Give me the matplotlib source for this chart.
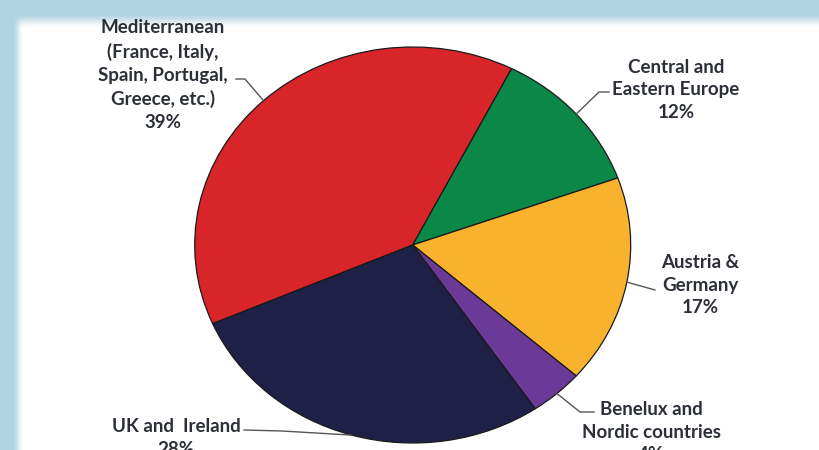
import numpy as np
import matplotlib.pyplot as plt

regions = ["Mediterranean\n(France, Italy,\nSpain, Portugal,\nGreece, etc.)",
           "Central and\nEastern Europe",
           "Austria &\nGermany",
           "Benelux and\nNordic countries",
           "UK and  Ireland"]
shares = [39, 12, 17, 4, 28]
colors = ["#d7252a", "#0b8847", "#f8b22d", "#6b3a98", "#1e2145"]

# pie is a bit wider than tall in the picture
cx, cy, rx, ry = 412.7, 245, 218, 198
W, H = 819, 450


def px(x, y):
    return (x - cx) / rx, (cy - y) / ry


fig = plt.figure(figsize=(8.19, 4.5), dpi=100)

# light blue frame at top and left
bg = fig.add_axes([0, 0, 1, 1])
xx, yy = np.meshgrid(np.arange(W), np.arange(H))
wx = np.clip((xx - 12) / 11, 0, 1)
wy = np.clip((yy - 13) / 15, 0, 1)
w = (wx * wx * (3 - 2 * wx)) * (wy * wy * (3 - 2 * wy))
blue = np.array([0.70, 0.83, 0.89])
img = blue[None, None, :] * (1 - w[..., None]) + w[..., None]
bg.imshow(img, extent=[0, W, H, 0], aspect="auto")
bg.axis("off")

ax = fig.add_axes([0, 0, 1, 1])
ax.patch.set_alpha(0)
wedges, _ = ax.pie(shares, colors=colors, startangle=203.4, counterclock=False,
                   wedgeprops=dict(edgecolor="#1a1a1a", linewidth=0.9))
ax.set_aspect("auto")
x0, y0 = px(0, H)
x1, y1 = px(W, 0)
ax.set_xlim(x0, x1)
ax.set_ylim(y0, y1)
ax.axis("off")

# label block centre, leader elbow, leader end (pixels)
label_pos = [(163, 75), (676, 90), (700, 285), (651, 432), (176, 438)]
elbows = [(245, 79), (599, 92), None, (580, 412), (282, 431)]
ends = [(236, 79), (609, 92), (655, 290), (594, 412), (244, 430)]

for wd, name, s, lp, el, en in zip(wedges, regions, shares, label_pos, elbows, ends):
    mid = np.deg2rad((wd.theta1 + wd.theta2) / 2)
    pts = [(np.cos(mid), np.sin(mid))]
    if el is not None:
        pts.append(px(*el))
    pts.append(px(*en))
    pts = np.array(pts)
    ax.plot(pts[:, 0], pts[:, 1], color="#555555", lw=1.0)
    tx, ty = px(*lp)
    ax.text(tx, ty, f"{name}\n{s}%", ha="center", va="center", multialignment="center",
            fontsize=13.5, fontweight="bold", family="Lato", color="#2c2f38",
            linespacing=1.41)

fig.savefig("out.png", dpi=100)
